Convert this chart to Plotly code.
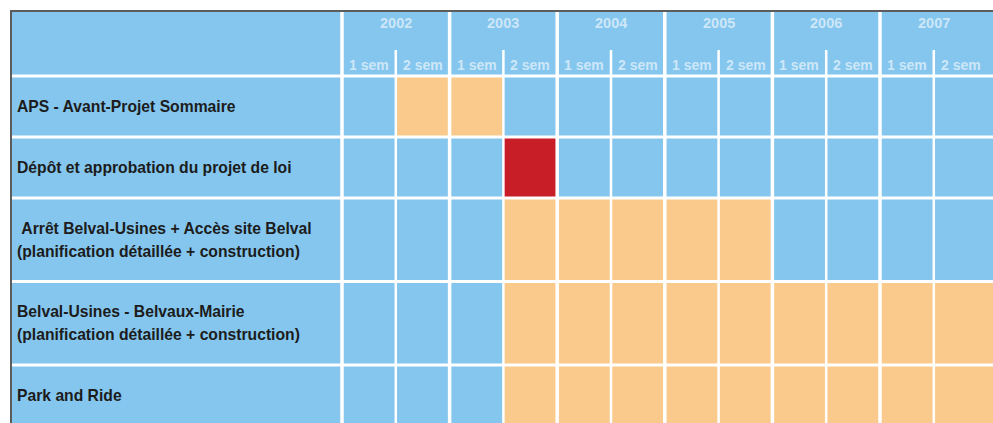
import numpy as np
import plotly.graph_objects as go

# ---------------- data ----------------
years = [2002, 2003, 2004, 2005, 2006, 2007]
semester_labels = ["1 sem", "2 sem"]

tasks = [
    "APS - Avant-Projet Sommaire",
    "Dépôt et approbation du projet de loi",
    " Arrêt Belval-Usines + Accès site Belval\n(planification détaillée + construction)",
    "Belval-Usines - Belvaux-Mairie\n(planification détaillée + construction)",
    "Park and Ride",
]
start_year = [2002, 2003, 2003, 2003, 2003]
start_sem = [2, 2, 2, 2, 2]
end_year = [2003, 2003, 2005, 2007, 2007]
end_sem = [1, 2, 2, 2, 2]
task_kind = ["phase", "approval", "phase", "phase", "phase"]

# ---------------- styles ----------------
BLUE = "#84C6EE"
ORANGE = "#F9CA8B"
RED = "#C81E28"
WHITE = "white"
BORDER = "#5c5c5c"
HEADER_TXT = "rgba(255,255,255,0.6)"
LABEL_TXT = "#1c1c1c"
FONT = "Liberation Sans, Arial, sans-serif"

W, H = 993, 423
LEFT, TOP = 12, 12
LABEL_W = 330
COL_W = 53.8
HEADER_H = 64
SEM_ROW_TOP = 38
ROW_H_1 = 61
ROW_H_2 = 83.5
LINE_GAP = 23

kind_code = {"phase": 1, "approval": 2}

n_sem = len(years) * len(semester_labels)
n_rows = len(tasks)


def sem_index(y, s):
    return (y - years[0]) * len(semester_labels) + (s - 1)


z = np.zeros((n_rows, n_sem))
for r in range(n_rows):
    a = sem_index(start_year[r], start_sem[r])
    b = sem_index(end_year[r], end_sem[r])
    z[r, a:b + 1] = kind_code[task_kind[r]]

plot_w = W - LEFT
plot_h = H - TOP
x0 = -0.5 - LABEL_W / COL_W
x1 = x0 + plot_w / COL_W

lines_per_task = [t.split("\n") for t in tasks]
row_h = [ROW_H_1 if len(l) == 1 else ROW_H_2 for l in lines_per_task]
y_edges = list(HEADER_H + np.concatenate([[0], np.cumsum(row_h)]))
x_edges = list(np.arange(n_sem + 1) - 0.5)
x_edges[-1] = max(x_edges[-1], x1)

colorscale = [[0, BLUE], [0.3333, BLUE], [0.3334, ORANGE], [0.6666, ORANGE],
              [0.6667, RED], [1, RED]]

fig = go.Figure()
fig.add_trace(go.Heatmap(
    z=z, x=x_edges, y=y_edges, zmin=0, zmax=2,
    colorscale=colorscale, showscale=False, hoverinfo="skip",
    xgap=0, ygap=0,
))

shapes = []
# horizontal separators (header bottom and between rows)
for ye in y_edges[:-1]:
    shapes.append(dict(type="line", xref="paper", x0=0, x1=1, yref="y", y0=ye, y1=ye,
                       line=dict(color=WHITE, width=3), layer="above"))
# year separators
for i in range(len(years)):
    xv = -0.5 + i * len(semester_labels)
    shapes.append(dict(type="line", xref="x", x0=xv, x1=xv, yref="y", y0=0, y1=plot_h,
                       line=dict(color=WHITE, width=3.5), layer="above"))
# semester separators
for i in range(len(years)):
    xv = 0.5 + i * len(semester_labels)
    shapes.append(dict(type="line", xref="x", x0=xv, x1=xv, yref="y", y0=SEM_ROW_TOP, y1=plot_h,
                       line=dict(color=WHITE, width=2.5), layer="above"))

annotations = []
for i, yr in enumerate(years):
    annotations.append(dict(x=0.5 + i * len(semester_labels), y=11, xref="x", yref="y",
                            text=str(yr), showarrow=False,
                            font=dict(family=FONT, size=14.5, color=HEADER_TXT, weight="bold")))
    for j, s in enumerate(semester_labels):
        annotations.append(dict(x=i * len(semester_labels) + j, y=53, xref="x", yref="y",
                                text=s, showarrow=False,
                                font=dict(family=FONT, size=14, color=HEADER_TXT, weight="bold")))

for r, lines in enumerate(lines_per_task):
    yc = (y_edges[r] + y_edges[r + 1]) / 2
    n = len(lines)
    for k, ln in enumerate(lines):
        off = (k - (n - 1) / 2) * LINE_GAP
        txt = ln.replace(" ", "\u00a0", 1) if ln.startswith(" ") else ln
        annotations.append(dict(x=0, xref="paper", xanchor="left", xshift=3,
                                y=yc + off, yref="y", yanchor="middle",
                                text=txt, showarrow=False,
                                font=dict(family=FONT, size=15.7, color=LABEL_TXT, weight="bold")))

fig.update_layout(
    width=W, height=H,
    margin=dict(l=LEFT, t=TOP, r=0, b=0, pad=0),
    paper_bgcolor="white", plot_bgcolor=BLUE,
    showlegend=False,
    shapes=shapes, annotations=annotations,
    xaxis=dict(range=[x0, x1], side="top", showline=True, linecolor=BORDER, linewidth=2,
               showgrid=False, zeroline=False, showticklabels=False, ticks="", fixedrange=True),
    yaxis=dict(range=[plot_h, 0], showline=True, linecolor=BORDER, linewidth=2,
               showgrid=False, zeroline=False, showticklabels=False, ticks="", fixedrange=True),
)

fig.write_html("out.html", config={"displayModeBar": False},
               post_script="document.body.style.margin='0';document.body.style.overflow='hidden';")
